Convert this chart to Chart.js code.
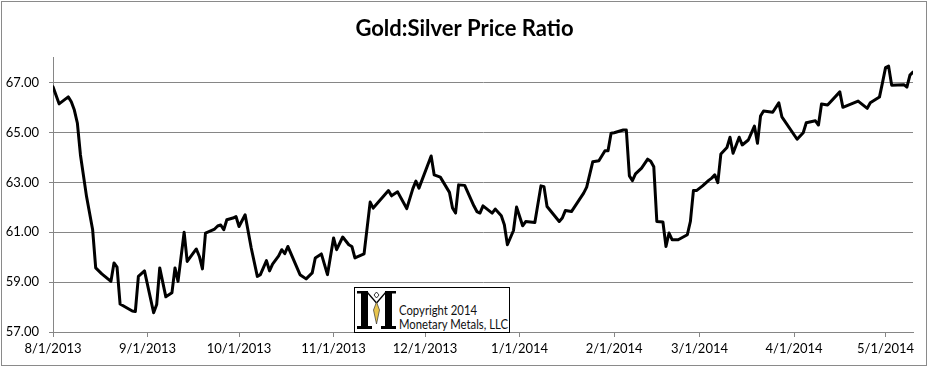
<!DOCTYPE html>
<html><head><meta charset="utf-8">
<script src="https://cdn.jsdelivr.net/npm/chart.js@4/dist/chart.umd.min.js"></script>
<style>
html,body{margin:0;padding:0;background:#fff;}
#wrap{position:relative;width:929px;height:368px;overflow:hidden;}
#frame{position:absolute;left:1px;top:1px;width:926px;height:365px;box-sizing:border-box;border:1px solid #8a8a8a;pointer-events:none;}
#logo{position:absolute;left:354px;top:287px;width:156px;height:46px;box-sizing:border-box;border:1px solid #000;background:#fff;}
#logo svg{position:absolute;left:0;top:0;}
#logo .txt{position:absolute;left:44px;top:16px;font-family:Lato,"Open Sans",sans-serif;font-size:13px;line-height:13.5px;color:#111;white-space:nowrap;transform:scaleX(0.87);transform-origin:0 0;}
</style></head>
<body>
<div id="wrap">
<canvas id="c" width="929" height="368"></canvas>
<div id="frame"></div>
<div id="logo">
<svg width="44" height="44" viewBox="0 0 44 44">
<rect x="6" y="4" width="7" height="35" fill="#000"/>
<rect x="2" y="38" width="15" height="3" fill="#000"/>
<rect x="2" y="3" width="11" height="2.5" fill="#000"/>
<rect x="30" y="4" width="7" height="35" fill="#000"/>
<rect x="26" y="38" width="15" height="3" fill="#000"/>
<rect x="30" y="3" width="11" height="2.5" fill="#000"/>
<line x1="12" y1="4" x2="21.5" y2="15" stroke="#000" stroke-width="1.3"/>
<line x1="31" y1="4" x2="21.5" y2="15" stroke="#000" stroke-width="1.3"/>
<polygon points="21.5,4 24,7 21.5,10 19,7" fill="none" stroke="#000" stroke-width="0.8"/>
<polygon points="21.5,14 24.5,22 21.5,36 18.5,22" fill="#e9c54d" stroke="#333" stroke-width="0.7"/>
</svg>
<div class="txt">Copyright 2014<br>Monetary Metals, LLC</div>
</div>
</div>
<script>
const tickLabels = ["8/1/2013","9/1/2013","10/1/2013","11/1/2013","12/1/2013","1/1/2014","2/1/2014","3/1/2014","4/1/2014","5/1/2014"];
const yTicks = [57, 59, 61, 63, 65, 67];
const dates = [
"8/1/2013","8/3/2013","8/6/2013","8/7/2013","8/8/2013","8/9/2013","8/10/2013","8/12/2013","8/14/2013","8/15/2013",
"8/17/2013","8/20/2013","8/21/2013","8/22/2013","8/23/2013","8/27/2013","8/28/2013","8/29/2013","8/31/2013",
"9/3/2013","9/4/2013","9/5/2013","9/7/2013","9/9/2013","9/10/2013","9/11/2013","9/13/2013","9/14/2013","9/17/2013",
"9/18/2013","9/19/2013","9/20/2013","9/23/2013","9/24/2013","9/25/2013","9/26/2013","9/27/2013","9/29/2013","9/30/2013",
"10/1/2013","10/3/2013","10/5/2013","10/7/2013","10/8/2013","10/10/2013","10/11/2013","10/12/2013","10/14/2013","10/15/2013",
"10/16/2013","10/17/2013","10/21/2013","10/23/2013","10/25/2013","10/26/2013","10/28/2013","10/30/2013",
"11/1/2013","11/2/2013","11/4/2013","11/6/2013","11/7/2013","11/8/2013","11/11/2013","11/13/2013","11/14/2013","11/19/2013",
"11/20/2013","11/22/2013","11/25/2013","11/27/2013","11/28/2013","11/29/2013",
"12/3/2013","12/4/2013","12/6/2013","12/9/2013","12/10/2013","12/11/2013","12/12/2013","12/14/2013","12/17/2013","12/18/2013",
"12/19/2013","12/20/2013","12/23/2013","12/24/2013","12/26/2013","12/27/2013","12/28/2013","12/30/2013","12/31/2013",
"1/2/2014","1/3/2014","1/6/2014","1/8/2014","1/9/2014","1/10/2014","1/14/2014","1/15/2014","1/16/2014","1/18/2014",
"1/22/2014","1/23/2014","1/25/2014","1/27/2014","1/29/2014","1/30/2014","1/31/2014",
"2/1/2014","2/4/2014","2/5/2014","2/6/2014","2/7/2014","2/8/2014","2/10/2014","2/12/2014","2/13/2014","2/14/2014",
"2/15/2014","2/17/2014","2/18/2014","2/19/2014","2/20/2014","2/22/2014","2/25/2014","2/26/2014","2/27/2014","2/28/2014",
"3/2/2014","3/4/2014","3/5/2014","3/6/2014","3/7/2014","3/8/2014","3/10/2014","3/11/2014","3/12/2014","3/14/2014",
"3/15/2014","3/17/2014","3/19/2014","3/20/2014","3/21/2014","3/22/2014","3/25/2014","3/27/2014","3/28/2014",
"4/2/2014","4/4/2014","4/5/2014","4/8/2014","4/9/2014","4/10/2014","4/12/2014","4/16/2014","4/17/2014","4/22/2014",
"4/25/2014","4/26/2014","4/29/2014","4/30/2014",
"5/1/2014","5/2/2014","5/3/2014","5/7/2014","5/8/2014","5/9/2014","5/10/2014"
];
const ratio = [
66.83,66.15,66.43,66.23,65.90,65.37,64.10,62.43,61.10,59.57,
59.33,59.03,59.77,59.60,58.12,57.84,57.82,59.23,59.45,
57.77,58.10,59.57,58.41,58.57,59.57,59.03,61.00,59.83,60.33,
60.03,59.53,60.97,61.13,61.25,61.29,61.10,61.50,61.57,61.63,
61.23,61.70,60.37,59.23,59.30,59.86,59.45,59.72,60.05,60.30,
60.14,60.43,59.30,59.13,59.37,59.97,60.13,59.30,
60.77,60.30,60.81,60.50,60.43,59.97,60.13,62.21,61.97,62.67,
62.46,62.62,61.95,62.75,63.05,62.77,
64.06,63.30,63.21,62.60,61.97,61.77,62.90,62.88,62.06,61.83,
61.77,62.06,61.77,61.93,61.66,61.30,60.50,61.07,62.01,
61.26,61.43,61.39,62.86,62.83,62.03,61.43,61.57,61.87,61.83,
62.57,62.81,63.83,63.87,64.27,64.27,64.97,
64.99,65.10,65.10,63.26,63.07,63.34,63.57,63.93,63.85,63.63,
61.43,61.41,60.43,60.97,60.70,60.70,60.90,61.43,62.67,62.67,
62.86,63.08,63.17,63.30,62.99,64.14,64.40,64.81,64.17,64.81,
64.50,64.70,65.26,64.57,65.66,65.86,65.81,66.19,65.63,
64.73,64.99,65.39,65.47,65.30,66.14,66.10,66.63,66.01,66.26,
65.97,66.19,66.42,67.00,
67.60,67.66,66.90,66.92,66.82,67.30,67.42
];

function toDay(s) {
  const [m, d, y] = s.split('/').map(Number);
  const [m0, d0, y0] = tickLabels[0].split('/').map(Number);
  return (Date.UTC(y, m - 1, d) - Date.UTC(y0, m0 - 1, d0)) / 86400000;
}

const gridColor = '#868686';
const baseFont = { family: 'Lato, "Open Sans", sans-serif', size: 13 };

new Chart(document.getElementById('c'), {
  type: 'line',
  data: {
    datasets: [{
      data: dates.map((d, i) => ({ x: toDay(d), y: ratio[i] })),
      borderColor: '#000',
      borderWidth: 3,
      pointRadius: 0,
      tension: 0,
      borderJoinStyle: 'round',
      borderCapStyle: 'round',
      fill: false
    }]
  },
  options: {
    responsive: false,
    animation: false,
    devicePixelRatio: 1,
    layout: { padding: { left: 0, right: 0, top: 0, bottom: 0 } },
    plugins: {
      legend: { display: false },
      tooltip: { enabled: false },
      title: {
        display: true,
        text: 'Gold:Silver Price Ratio',
        color: '#000',
        font: { family: 'Lato, "Open Sans", sans-serif', size: 22, weight: 'bold' },
        padding: { top: 15.5, bottom: 15.8 }
      }
    },
    scales: {
      x: {
        type: 'linear',
        min: 0,
        max: toDay(dates[dates.length - 1]),
        afterBuildTicks: (s) => { s.ticks = tickLabels.map(l => ({ value: toDay(l) })); },
        afterFit: (s) => { s.height = 36; },
        ticks: {
          autoSkip: false, maxRotation: 0, minRotation: 0,
          color: '#000', font: baseFont, padding: 4,
          callback: (v, i) => tickLabels[i]
        },
        grid: { drawOnChartArea: false, drawTicks: true, tickLength: 5, color: gridColor, lineWidth: 1 },
        border: { display: true, color: gridColor, width: 1 }
      },
      y: {
        min: 57,
        max: 68,
        afterBuildTicks: (s) => { s.ticks = yTicks.map(v => ({ value: v })); },
        afterFit: (s) => { s.width = 53; },
        ticks: {
          color: '#000', font: baseFont, padding: 10,
          callback: (v) => Number(v).toFixed(2)
        },
        grid: { color: gridColor, lineWidth: 1, tickLength: 4, drawTicks: true },
        border: { display: true, color: gridColor, width: 1 }
      },
      yRight: {
        position: 'right',
        min: 57,
        max: 68,
        afterFit: (s) => { s.width = 16; },
        ticks: { display: false },
        grid: { display: false },
        border: { display: false }
      }
    }
  }
});
</script>
</body></html>
